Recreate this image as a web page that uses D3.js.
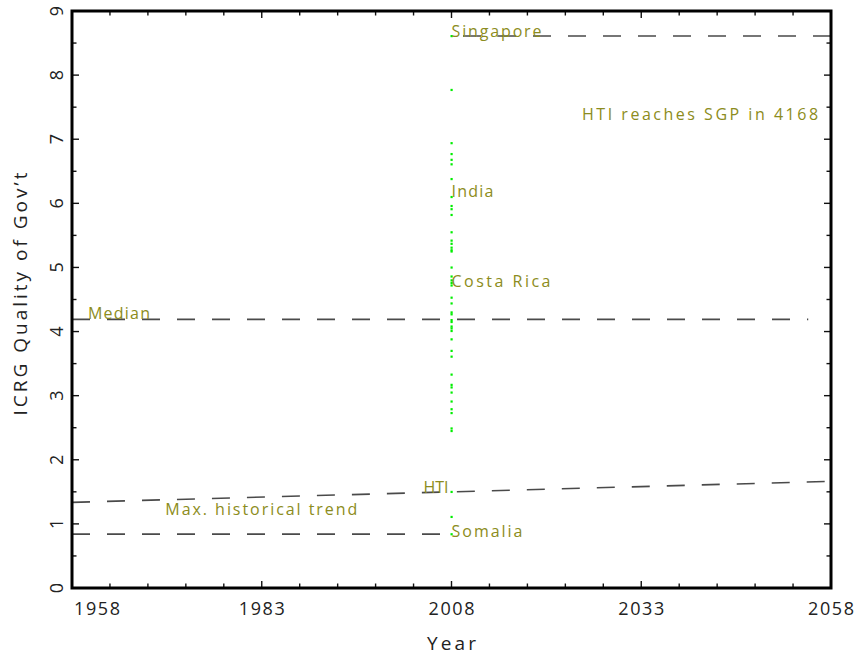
<!DOCTYPE html>
<html>
<head>
<meta charset="utf-8">
<script src="https://cdn.jsdelivr.net/npm/d3@7"></script>
<style>
  html, body { margin: 0; padding: 0; background: #fff; }
  svg { display: block; font-family: "Open Sans", "DejaVu Sans", sans-serif; }
</style>
</head>
<body>
<svg id="chart" width="856" height="657"></svg>
<script>
// ---- data ----
const xTickYears = [1958, 1983, 2008, 2033, 2058];
const yTickValues = [0, 1, 2, 3, 4, 5, 6, 7, 8, 9];
const snapshotYear = 2008;
const countryScores = [8.61, 7.77, 6.94, 6.77, 6.68, 6.61, 6.38, 6.10, 5.96, 5.91, 5.82,
  5.55, 5.42, 5.37, 5.31, 5.27, 5.25, 5.00, 4.86, 4.80, 4.76, 4.72, 4.53, 4.44, 4.30,
  4.27, 4.18, 4.15, 4.08, 4.05, 4.01, 3.88, 3.70, 3.61, 3.33, 3.17, 3.13, 3.05, 2.91,
  2.79, 2.73, 2.49, 2.45, 1.50, 1.11, 0.84];
const singaporeLine = [[2058, 8.61], [2008, 8.61]];
const medianLine = [[1958, 4.19], [2055, 4.19]];
const somaliaLine = [[1958, 0.84], [2008, 0.84]];
const htiTrendLine = [[1958, 1.336], [2058, 1.664]];
const labelTexts = ["Singapore", "India", "Costa Rica", "Median", "HTI", "Somalia",
  "Max. historical trend", "HTI reaches SGP in 4168"];
const labelAnchors = [[2008, 8.6], [2008, 6.10], [2008, 4.70], [1960.1, 4.19],
  [2007.6, 1.48], [2008, 0.79], [1970.3, 1.14], [2025.2, 7.3]];

// ---- layout / style (not data) ----
const labelAlign = ["start", "start", "start", "start", "end", "start", "start", "start"];
const labelWidths = [90, 42, 99, 62, 25, 71, 192, 236];
const svg = d3.select("#chart");
const L = 72, R = 831, T = 11, B = 588;
const x = d3.scaleLinear().domain([1958, 2058]).range([L, R]);
const y = d3.scaleLinear().domain([0, 9]).range([B, T]);
const olive = "#8c8c20";
const line = d3.line().x(d => x(d[0])).y(d => y(d[1]));

// dashed reference lines
const dashGroup = svg.append("g").attr("fill", "none").attr("stroke", "#4a4a4a")
  .attr("stroke-width", 1.6).attr("stroke-dasharray", "18,17");
[singaporeLine, medianLine, somaliaLine, htiTrendLine].forEach(pts => {
  dashGroup.append("path").attr("d", line(pts));
});

// country dots
svg.append("g").selectAll("rect").data(countryScores).join("rect")
  .attr("x", x(snapshotYear) - 1).attr("y", d => y(d) - 1)
  .attr("width", 2.2).attr("height", 2.2).attr("fill", "#00ee00");

// annotations
svg.append("g").selectAll("text").data(labelTexts).join("text")
  .attr("x", (d, i) => x(labelAnchors[i][0]))
  .attr("y", (d, i) => y(labelAnchors[i][1]))
  .attr("text-anchor", (d, i) => labelAlign[i])
  .attr("fill", olive).attr("font-size", 16)
  .attr("textLength", (d, i) => labelWidths[i]).attr("lengthAdjust", "spacing")
  .text(d => d);

// ticks (inward, all four sides)
const tickG = svg.append("g").attr("stroke", "#111").attr("stroke-width", 1.4);
const xMinor = d3.range(1958, 2058.01, 5);
xMinor.forEach(v => {
  const len = xTickYears.includes(v) ? 7 : 4.5;
  tickG.append("line").attr("x1", x(v)).attr("x2", x(v)).attr("y1", B).attr("y2", B - len);
  tickG.append("line").attr("x1", x(v)).attr("x2", x(v)).attr("y1", T).attr("y2", T + len);
});
const yMinor = d3.range(0, 9.01, 0.5);
yMinor.forEach(v => {
  const len = Number.isInteger(v) ? 7 : 4.5;
  tickG.append("line").attr("y1", y(v)).attr("y2", y(v)).attr("x1", L).attr("x2", L + len);
  tickG.append("line").attr("y1", y(v)).attr("y2", y(v)).attr("x1", R).attr("x2", R - len);
});

// frame
svg.append("rect").attr("x", L).attr("y", T).attr("width", R - L).attr("height", B - T)
  .attr("fill", "none").attr("stroke", "#000").attr("stroke-width", 3);

// x tick labels
svg.append("g").selectAll("text").data(xTickYears).join("text")
  .attr("x", (d, i) => i === 0 ? x(d) + 2 : x(d))
  .attr("y", 615)
  .attr("text-anchor", (d, i) => i === 0 ? "start" : "middle")
  .attr("fill", "#222").attr("font-size", 18)
  .attr("textLength", 46).attr("lengthAdjust", "spacing")
  .text(d => d);

// y tick labels (rotated)
svg.append("g").selectAll("text").data(yTickValues).join("text")
  .attr("transform", d => `translate(63,${y(d)}) rotate(-90)`)
  .attr("text-anchor", "middle")
  .attr("fill", "#222").attr("font-size", 18)
  .text(d => d);

// axis titles
svg.append("text").attr("x", (L + R) / 2).attr("y", 650).attr("text-anchor", "middle")
  .attr("fill", "#222").attr("font-size", 19)
  .attr("textLength", 49).attr("lengthAdjust", "spacing").text("Year");
svg.append("text").attr("transform", `translate(27,294) rotate(-90)`)
  .attr("text-anchor", "middle").attr("fill", "#222").attr("font-size", 19)
  .attr("textLength", 243).attr("lengthAdjust", "spacing")
  .text("ICRG Quality of Gov\u2019t");
</script>
</body>
</html>
